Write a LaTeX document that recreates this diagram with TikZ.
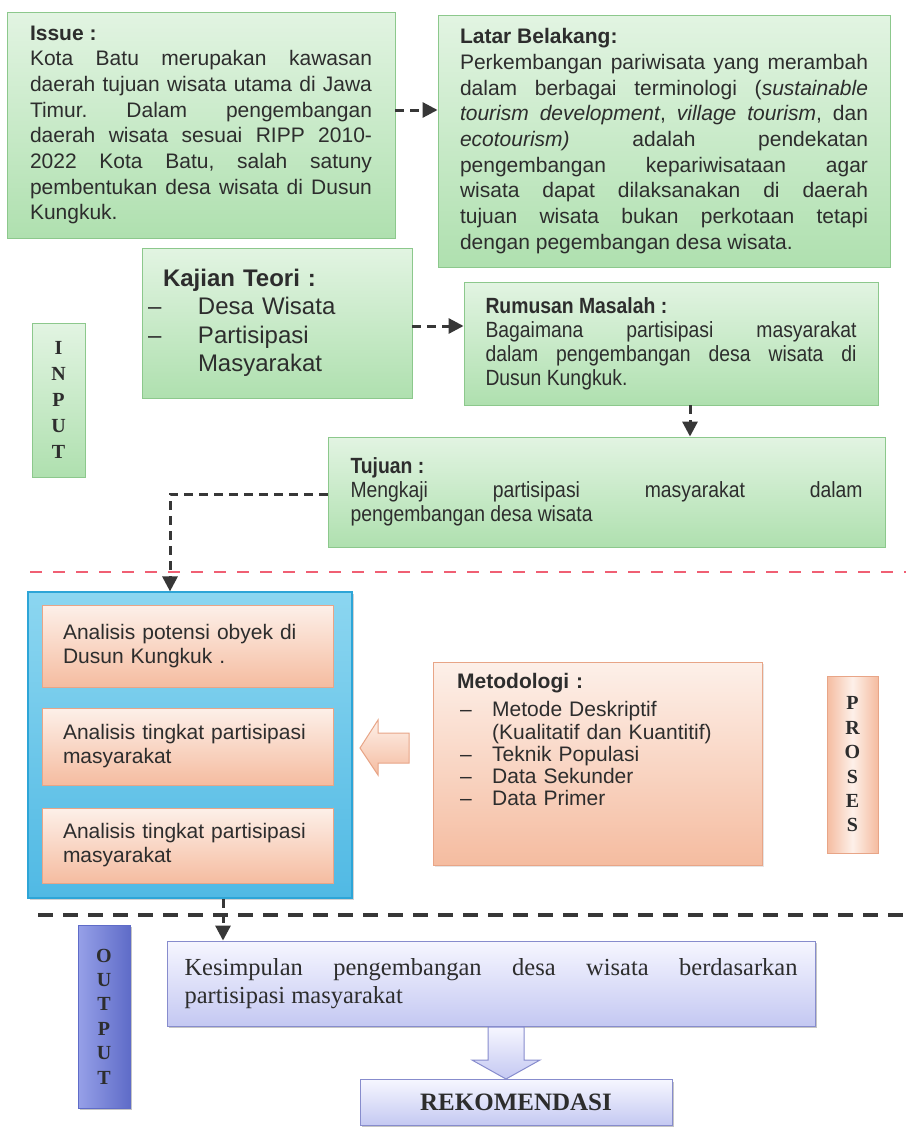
\documentclass[tikz,border=0pt]{standalone}
\usepackage{fontspec}
\setmainfont{Liberation Sans}
\newfontfamily\serifF{Liberation Serif}
\newfontfamily\narrowF[FakeStretch=0.88]{Liberation Sans}
\usetikzlibrary{arrows.meta,shadows}
\setlength{\parindent}{0pt}
\frenchspacing
\hyphenpenalty=10000
\exhyphenpenalty=10000
\definecolor{txtc}{RGB}{45,45,45}
\definecolor{grnT}{RGB}{226,244,226}
\definecolor{grnD}{RGB}{175,224,175}
\definecolor{grnB}{RGB}{140,200,140}
\definecolor{salT}{RGB}{253,240,233}
\definecolor{salD}{RGB}{245,188,160}
\definecolor{salB}{RGB}{232,165,135}
\definecolor{bluT}{RGB}{140,214,240}
\definecolor{bluD}{RGB}{80,185,228}
\definecolor{bluB}{RGB}{45,165,215}
\definecolor{lavT}{RGB}{246,246,255}
\definecolor{lavD}{RGB}{196,200,242}
\definecolor{lavB}{RGB}{135,140,205}
\definecolor{outL}{RGB}{150,160,232}
\definecolor{outR}{RGB}{95,108,200}
\definecolor{arrc}{RGB}{55,55,55}
\definecolor{redsepc}{RGB}{240,95,115}
\newcommand{\fA}{\fontsize{21}{25.7}\selectfont}
\newcommand{\fK}{\fontsize{24}{28.5}\selectfont}
\newcommand{\fN}{\narrowF\fontsize{22}{24}\selectfont}
\newcommand{\fM}{\fontsize{21}{22.3}\selectfont}
\newcommand{\fI}{\fontsize{21}{24}\selectfont}
\newcommand{\fV}{\serifF\bfseries\fontsize{20}{26}\selectfont}
\newcommand{\fVb}{\serifF\bfseries\fontsize{20}{24.4}\selectfont}
\begin{document}
\begin{tikzpicture}[x=1pt,y=-1pt,
  every node/.style={text=txtc},
  greenbox/.style={draw=grnB, line width=0.9pt, top color=grnT, bottom color=grnD, inner sep=0pt},
  salbox/.style={draw=salB, line width=0.9pt, top color=salT, bottom color=salD, inner sep=0pt},
  bluebox/.style={draw=bluB, line width=1.2pt, top color=bluT, bottom color=bluD, inner sep=0pt,
     drop shadow={shadow xshift=2pt, shadow yshift=-2pt, opacity=0.35}},
  lavbox/.style={draw=lavB, line width=0.9pt, top color=lavT, bottom color=lavD, inner sep=0pt,
     drop shadow={shadow xshift=2pt, shadow yshift=-2pt, opacity=0.45}},
  outbox/.style={draw=outR, line width=0.9pt, left color=outL, right color=outR, inner sep=0pt,
     drop shadow={shadow xshift=2pt, shadow yshift=-2pt, opacity=0.45}},
  dasharrow/.style={draw=arrc, line width=3pt, dash pattern=on 9pt off 6pt, -{Triangle[length=15pt,width=15pt]}},
  redsep/.style={draw=redsepc, line width=2pt, dash pattern=on 12pt off 11pt},
  blacksep/.style={draw=arrc, line width=3.2pt, dash pattern=on 15pt off 10pt}
]
\useasboundingbox (0,0) rectangle (906,1127);
\fill[white] (0,0) rectangle (906,1127);

% separators
\draw[redsep] (30,572) -- (906,572);
\draw[blacksep] (38,915) -- (906,915);

% INPUT section
\node[greenbox, minimum width=388pt, minimum height=226pt, text width=342pt, align=justify, font=\fA] (issue) at (201,125)
 {\textbf{Issue :}\par Kota Batu merupakan kawasan\linebreak daerah tujuan wisata utama di Jawa\linebreak Timur. Dalam pengembangan\linebreak daerah wisata sesuai RIPP 2010-\linebreak 2022 Kota Batu, salah satuny\linebreak pembentukan desa wisata di Dusun\linebreak Kungkuk.};

\node[greenbox, minimum width=452pt, minimum height=252pt, text width=408pt, align=justify, font=\fA] (latar) at (664,141)
 {\textbf{Latar Belakang:}\par Perkembangan pariwisata yang merambah\linebreak dalam berbagai terminologi (\textit{sustainable}\linebreak \textit{tourism development}, \textit{village tourism}, dan\linebreak \textit{ecotourism)} adalah pendekatan\linebreak pengembangan kepariwisataan agar\linebreak wisata dapat dilaksanakan di daerah\linebreak tujuan wisata bukan perkotaan tetapi\linebreak dengan pegembangan desa wisata.};

\node[greenbox, minimum width=270pt, minimum height=150pt, text width=258pt, align=left, font=\fK] (kajian) at (277,323)
 {\hspace*{15pt}\textbf{Kajian Teori :}\\ \makebox[50pt][l]{--}Desa Wisata\\ \makebox[50pt][l]{--}Partisipasi\\ \hspace*{50pt}Masyarakat};

\node[greenbox, minimum width=53pt, minimum height=154pt, align=center, font=\fV] (input) at (58.5,400)
 {I\\N\\P\\U\\T};

\node[greenbox, minimum width=414pt, minimum height=123pt, text width=371pt, align=justify, font=\fN] (rumusan) at (671,343.5)
 {\textbf{Rumusan Masalah :}\par Bagaimana partisipasi masyarakat\linebreak dalam pengembangan desa wisata di\linebreak Dusun Kungkuk.};

\node[greenbox, minimum width=557pt, minimum height=110pt, text width=512pt, align=justify, font=\fN] (tujuan) at (606.5,492)
 {\textbf{Tujuan :}\par Mengkaji partisipasi masyarakat dalam\linebreak pengembangan desa wisata};

% PROSES section
\node[bluebox, minimum width=324pt, minimum height=306pt] (blue) at (190,745) {};
\node[salbox, minimum width=291pt, minimum height=82pt, text width=249pt, align=left, font=\fI] (an1) at (187.5,646)
 {Analisis potensi obyek di\\Dusun Kungkuk .};
\node[salbox, minimum width=291pt, minimum height=77pt, text width=249pt, align=left, font=\fI] (an2) at (187.5,746.5)
 {Analisis tingkat partisipasi\\masyarakat};
\node[salbox, minimum width=291pt, minimum height=75pt, text width=249pt, align=left, font=\fI] (an3) at (187.5,845.5)
 {Analisis tingkat partisipasi\\masyarakat};

\node[salbox, minimum width=329pt, minimum height=203pt,
   drop shadow={shadow xshift=1.5pt, shadow yshift=-1.5pt, opacity=0.2}] (metod) at (597.5,763.5) {};
\node[anchor=north west, inner sep=0pt, text width=300pt, align=left, font=\fM] (metodtxt) at (457,673)
 {\textbf{Metodologi :}\\[6pt]
  \makebox[35pt][l]{\hspace{3pt}--}Metode Deskriptif\\
  \hspace*{35pt}(Kualitatif dan Kuantitif)\\
  \makebox[35pt][l]{\hspace{3pt}--}Teknik Populasi\\
  \makebox[35pt][l]{\hspace{3pt}--}Data Sekunder\\
  \makebox[35pt][l]{\hspace{3pt}--}Data Primer};

\node[salbox, left color=salD, right color=salD, middle color=salT, minimum width=51pt, minimum height=177pt, align=center, font=\fVb] (proses) at (852.5,764.5)
 {P\\R\\O\\S\\E\\S};

% hollow arrow from Metodologi to analysis box
\draw[draw=salB, line width=1pt, top color=salT, bottom color=salD]
  (409,733) -- (378,733) -- (378,720) -- (360,748) -- (378,775) -- (378,763) -- (409,763) -- cycle;

% OUTPUT section
\node[outbox, minimum width=52pt, minimum height=183pt, align=center, font=\fVb] (output) at (104,1016.5)
 {O\\U\\T\\P\\U\\T};
\node[lavbox, minimum width=648pt, minimum height=85pt, text width=613pt, align=justify, font=\serifF\fontsize{24.5}{28}\selectfont] (kes) at (491,983.5)
 {Kesimpulan pengembangan desa wisata berdasarkan\linebreak partisipasi masyarakat};
\node[lavbox, minimum width=312pt, minimum height=46pt, font=\serifF\bfseries\fontsize{25}{28}\selectfont] (rekom) at (516,1102.5)
 {REKOMENDASI};

\draw[draw=lavB, line width=1pt, top color=lavT, bottom color=lavD]
  (488,1027) -- (524,1027) -- (524,1060) -- (540,1060) -- (506,1079) -- (472,1060) -- (488,1060) -- cycle;

% connectors
\coordinate (cy110) at (0,110);
\coordinate (cy326) at (0,326);
\coordinate (cx690) at (690,0);
\coordinate (cy494) at (0,494);
\coordinate (cx170) at (170,0);
\coordinate (cx223) at (223,0);
\draw[dasharrow] (issue.east |- cy110) -- (latar.west |- cy110);
\draw[dasharrow] (kajian.east |- cy326) -- (rumusan.west |- cy326);
\draw[dasharrow] (rumusan.south -| cx690) -- (tujuan.north -| cx690);
\draw[dasharrow] (tujuan.west |- cy494) -| (blue.north -| cx170);
\draw[dasharrow] (blue.south -| cx223) -- (kes.north -| cx223);
\end{tikzpicture}
\end{document}
